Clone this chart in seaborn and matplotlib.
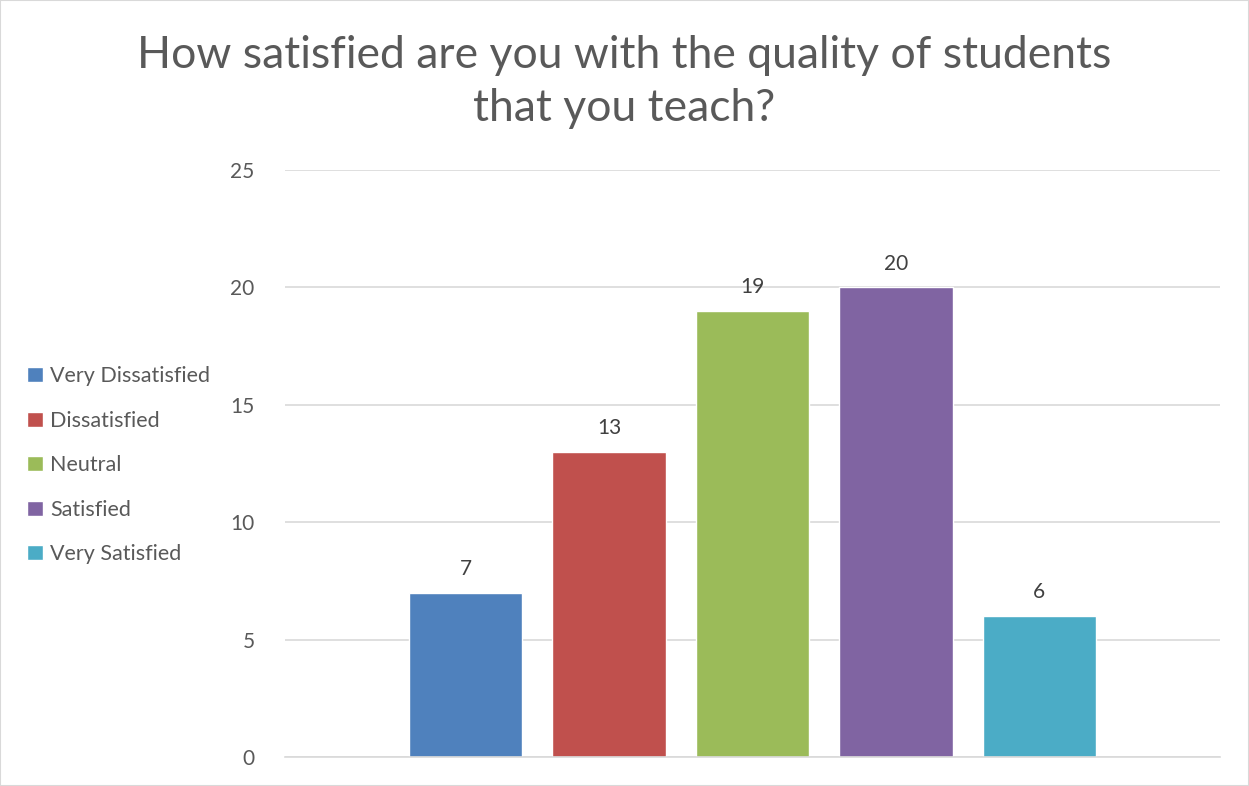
import matplotlib
matplotlib.use("Agg")
import matplotlib.pyplot as plt
from matplotlib.patches import Patch, Rectangle
import seaborn as sns
import pandas as pd

# data
categories = ["Very Dissatisfied", "Dissatisfied", "Neutral", "Satisfied", "Very Satisfied"]
counts = [7, 13, 19, 20, 6]
colors = ["#4F81BD", "#C0504D", "#9BBB59", "#8064A2", "#4BACC6"]
yticks = [0, 5, 10, 15, 20, 25]

df = pd.DataFrame({"answer": categories, "count": counts})

sns.set_style("white")
plt.rcParams["font.family"] = ["Lato", "DejaVu Sans"]
txt = "#595959"

fig = plt.figure(figsize=(12.49, 7.86), dpi=100)
ax = fig.add_axes([0.2282, 0.0369, 0.7486, 0.7468])

sns.barplot(data=df, x="answer", y="count", hue="answer", order=categories,
            hue_order=categories, palette=colors, width=0.79, legend=False,
            saturation=1, ax=ax)

ax.set_xlim(-1.26, 5.26)
ax.set_ylim(0, 25)
ax.set_yticks(yticks)
ax.grid(axis="y", color="#D9D9D9", linewidth=1.2)
ax.set_axisbelow(True)
for s in ["top", "right", "left"]:
    ax.spines[s].set_visible(False)
ax.spines["bottom"].set_color("#D9D9D9")
ax.spines["bottom"].set_linewidth(1.2)
ax.set_xticks([])
ax.set_xlabel("")
ax.set_ylabel("")
ax.tick_params(axis="y", length=0, pad=22, labelsize=15, labelcolor=txt)

for c in ax.containers:
    ax.bar_label(c, padding=10, fontsize=15, color="#404040")

handles = [Patch(facecolor=col, label=cat) for cat, col in zip(categories, colors)]
fig.legend(handles=handles, loc="center left", bbox_to_anchor=(0.022, 0.408), frameon=False,
           fontsize=15.5, labelcolor=txt, handlelength=0.7, handleheight=0.7,
           handletextpad=0.35, labelspacing=1.14, borderpad=0, borderaxespad=0)

fig.text(0.5, 0.896, "How satisfied are you with the quality of students\nthat you teach?",
         ha="center", va="center", fontsize=32, color=txt, linespacing=1.36)

fig.patches.append(Rectangle((0, 0), 1, 1, transform=fig.transFigure, fill=False,
                             edgecolor="#D9D9D9", linewidth=1.5))

fig.savefig("out.png", dpi=100)
